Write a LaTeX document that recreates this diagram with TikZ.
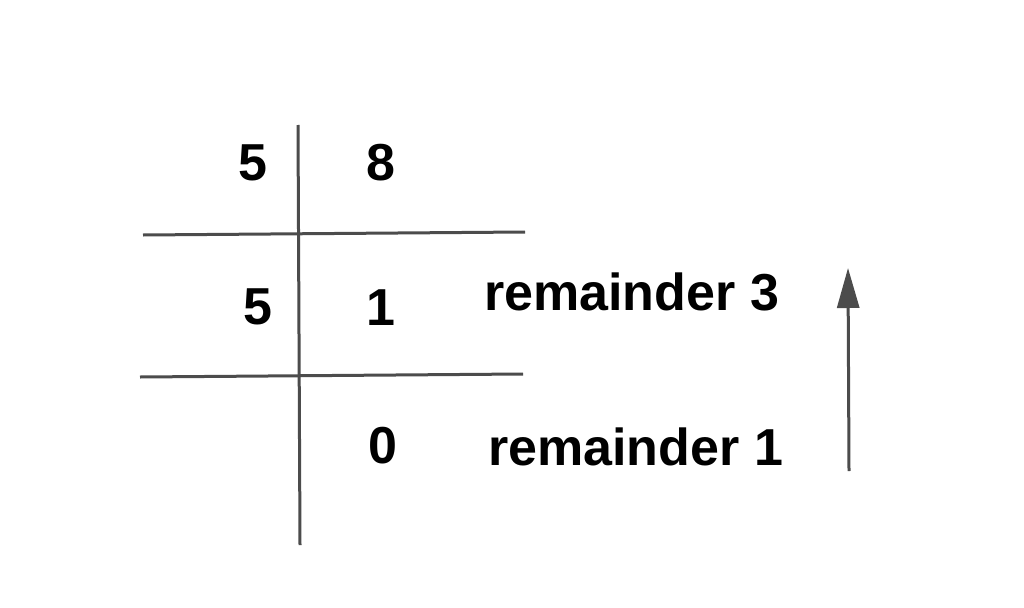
\documentclass[tikz,border=0pt]{standalone}
\usepackage{fontspec}
\setmainfont{Liberation Sans}
\usetikzlibrary{arrows.meta}
\begin{document}
\begin{tikzpicture}[x=1pt,y=-1pt,
  ln/.style={draw=black!70,line width=3pt},
  txt/.style={font=\fontsize{52}{56}\selectfont\bfseries,inner sep=0pt,anchor=base}]
\useasboundingbox[fill=white] (0,0) rectangle (1024,607);
\coordinate (vt) at (298,125); \coordinate (vb) at (300,545);
\coordinate (h1a) at (143,235); \coordinate (h1b) at (525,232);
\coordinate (h2a) at (140,377); \coordinate (h2b) at (523,374);
\draw[ln] (vt) -- (vb);
\draw[ln] (h1a) -- (h1b);
\draw[ln] (h2a) -- (h2b);
\node[txt] (a) at (253,180) {5};
\node[txt] (b) at (381,180) {8};
\node[txt] (c) at (258,324) {5};
\node[txt] (d) at (381,325) {1};
\node[txt] (e) at (383,463) {0};
\node[txt,anchor=base west] (r3) at (484,310) {remainder 3};
\node[txt,anchor=base west] (r1) at (488,465) {remainder 1};
\coordinate (ab) at (849,471); \coordinate (at) at (848,268);
\draw[ln,-{Triangle[length=40pt,width=22pt]}] (ab) -- (at);
\end{tikzpicture}
\end{document}
